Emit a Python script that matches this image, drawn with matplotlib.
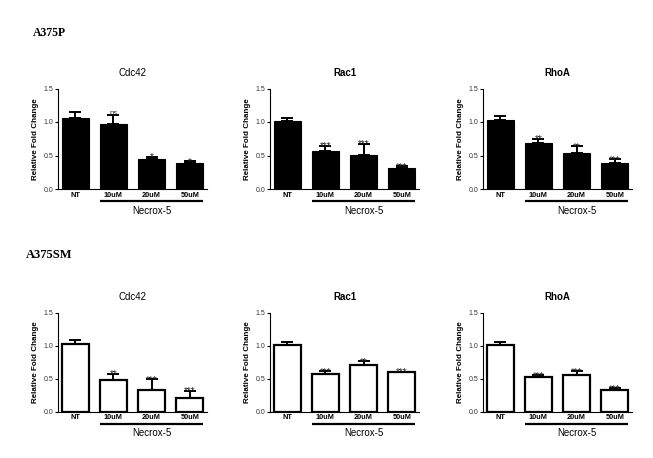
import matplotlib
matplotlib.use("Agg")
import matplotlib.pyplot as plt
import matplotlib.transforms as mtransforms

plt.rcParams['font.family'] = ['Liberation Sans', 'DejaVu Sans']

groups = ["NT", "10uM", "20uM", "50uM"]
genes = ["Cdc42", "Rac1", "RhoA"]
cells = ["A375P", "A375SM"]

# A375P (black bars)
p_cdc42 = [1.06, 0.97, 0.45, 0.39]
p_cdc42_err = [0.09, 0.13, 0.03, 0.025]
p_cdc42_sig = ["", "ns", "*", "*"]
p_rac1 = [1.02, 0.57, 0.505, 0.318]
p_rac1_err = [0.035, 0.075, 0.17, 0.025]
p_rac1_sig = ["", "***", "***", "***"]
p_rhoa = [1.03, 0.69, 0.54, 0.39]
p_rhoa_err = [0.065, 0.06, 0.10, 0.055]
p_rhoa_sig = ["", "**", "**", "***"]

# A375SM (white bars)
sm_cdc42 = [1.03, 0.475, 0.323, 0.212]
sm_cdc42_err = [0.055, 0.10, 0.167, 0.106]
sm_cdc42_sig = ["", "**", "***", "***"]
sm_rac1 = [1.01, 0.57, 0.715, 0.595]
sm_rac1_err = [0.04, 0.045, 0.05, 0.01]
sm_rac1_sig = ["", "***", "**", "***"]
sm_rhoa = [1.01, 0.52, 0.55, 0.325]
sm_rhoa_err = [0.04, 0.03, 0.06, 0.03]
sm_rhoa_sig = ["", "***", "***", "***"]

rows = [
    [(p_cdc42, p_cdc42_err, p_cdc42_sig), (p_rac1, p_rac1_err, p_rac1_sig), (p_rhoa, p_rhoa_err, p_rhoa_sig)],
    [(sm_cdc42, sm_cdc42_err, sm_cdc42_sig), (sm_rac1, sm_rac1_err, sm_rac1_sig), (sm_rhoa, sm_rhoa_err, sm_rhoa_sig)],
]

W, H = 653, 458
fig = plt.figure(figsize=(W / 100, H / 100), dpi=100)
fig.patch.set_facecolor("white")

lefts_px = [58, 270, 483]
width_px = 149
row_px = [(88.5, 189), (312.7, 411.7)]
title_weights = ["normal", "bold", "bold"]
bar_w = 0.7
x = list(range(len(groups)))

for r, row in enumerate(rows):
    top, bot = row_px[r]
    for c, (vals, errs, sigs) in enumerate(row):
        ax = fig.add_axes([lefts_px[c] / W, 1 - bot / H, width_px / W, (bot - top) / H])
        if r == 0:
            ax.bar(x, vals, width=bar_w, color="black", edgecolor="black", linewidth=0.8, zorder=2)
        else:
            ax.bar(x, vals, width=bar_w, color="white", edgecolor="black", linewidth=1.6, zorder=2)
        ax.errorbar(x, vals, yerr=[[0] * len(vals), errs], fmt="none", ecolor="black",
                    elinewidth=1.4, capsize=4.5, capthick=1.4, zorder=3)
        for xi, v, e, s in zip(x, vals, errs, sigs):
            if s == "ns":
                ax.text(xi, v + e - 0.02, s, ha="center", va="bottom", fontsize=5.5,
                        color="#222222", zorder=6, clip_on=False)
            elif s:
                ax.text(xi, v + e - 0.085, s, ha="center", va="bottom", fontsize=7,
                        color="#222222", zorder=6, clip_on=False)
        ax.set_xlim(-0.45, 3.45)
        ax.set_ylim(0, 1.5)
        ax.set_yticks([0, 0.5, 1.0, 1.5])
        ax.set_yticklabels(["0.0", "0.5", "1.0", "1.5"])
        ax.set_xticks(x)
        ax.set_xticklabels(groups, fontweight="bold")
        ax.tick_params(axis="y", length=2.5, width=0.8, pad=1, labelsize=5, labelcolor="#333333")
        ax.tick_params(axis="x", length=0, pad=2, labelsize=5.3)
        for sp in ["top", "right"]:
            ax.spines[sp].set_visible(False)
        ax.spines["left"].set_linewidth(0.8)
        ax.spines["bottom"].set_linewidth(0.8)
        ax.set_title(genes[c], fontsize=7, fontweight=title_weights[c], pad=9)
        ax.set_ylabel("Relative Fold Change", fontsize=5.8, fontweight="bold", labelpad=3)
        trans = mtransforms.blended_transform_factory(ax.transData, ax.transAxes)
        ax.plot([1 - bar_w / 2, 3 + bar_w / 2], [-0.12, -0.12], color="black", linewidth=1.6,
                transform=trans, clip_on=False, solid_capstyle="butt")
        ax.text(2.0, -0.22, "Necrox-5", transform=trans, ha="center", va="center", fontsize=7)

fig.text(33 / W, 1 - 33 / H, cells[0], family=["Liberation Serif", "DejaVu Serif"],
         fontweight="bold", fontsize=8.5, ha="left", va="center")
fig.text(26 / W, 1 - 255 / H, cells[1], family=["Liberation Serif", "DejaVu Serif"],
         fontweight="bold", fontsize=9, ha="left", va="center")

fig.savefig("out.png", dpi=100, facecolor="white")
